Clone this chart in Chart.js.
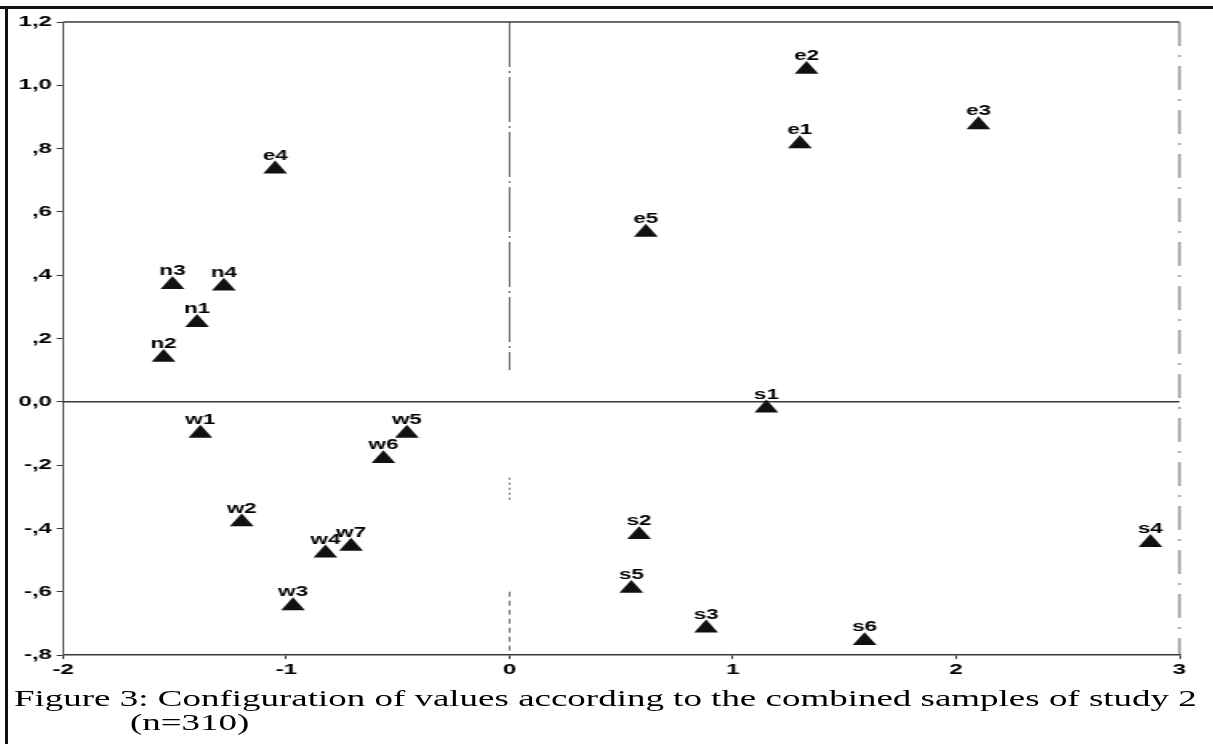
<!DOCTYPE html>
<html>
<head>
<meta charset="utf-8">
<title>Figure 3</title>
<script src="https://cdn.jsdelivr.net/npm/chart.js@4.4.1/dist/chart.umd.min.js"></script>
<style>
    body { margin: 0; background: #fff; overflow: hidden; }
    #wrap { position: absolute; left: 0; top: 0; width: 758px; height: 744px;
            transform: scaleX(1.6003); transform-origin: 0 0; }
    .edge { position: absolute; background: #111; }
    #caption { position: absolute; left: 14px; top: 687px; white-space: nowrap;
               font-family: "Liberation Serif", "Times New Roman", serif; font-size: 23px; line-height: 24px;
               color: #000; transform-origin: 0 0; }
</style>
</head>
<body>
<div id="wrap"><canvas id="configChart" width="758" height="744"></canvas></div>
<div class="edge" style="left:0;top:6px;width:1213px;height:3px;"></div>
<div class="edge" style="left:5px;top:6px;width:3px;height:738px;"></div>
<div id="caption">
    <div id="line1">Figure 3: Configuration of values according to the combined samples of study 2</div>
    <div id="line2">(n=310)</div>
</div>
<script>
const ctx_config = document.querySelector('#configChart').getContext('2d');

// value labels and their coordinates
const pointNames = ['e1', 'e2', 'e3', 'e4', 'e5', 'n1', 'n2', 'n3', 'n4',
    's1', 's2', 's3', 's4', 's5', 's6', 'w1', 'w2', 'w3', 'w4', 'w5', 'w6', 'w7'];
const xValues = [1.30, 1.33, 2.10, -1.05, 0.61, -1.40, -1.55, -1.51, -1.28,
    1.15, 0.58, 0.88, 2.87, 0.545, 1.59, -1.385, -1.20, -0.97, -0.825, -0.46, -0.565, -0.71];
const yValues = [0.815, 1.05, 0.875, 0.735, 0.535, 0.25, 0.14, 0.37, 0.365,
    -0.02, -0.42, -0.715, -0.445, -0.59, -0.755, -0.10, -0.38, -0.645, -0.478, -0.10, -0.18, -0.457];

// axis ticks
const xTickValues = [-2, -1, 0, 1, 2, 3];
const xTickLabels = ['-2', '-1', '0', '1', '2', '3'];
const yTickValues = [-0.8, -0.6, -0.4, -0.2, 0, 0.2, 0.4, 0.6, 0.8, 1.0, 1.2];
const yTickLabels = ['-,8', '-,6', '-,4', '-,2', '0,0', ',2', ',4', ',6', ',8', '1,0', '1,2'];

let points = [];
for (let i = 0; i < pointNames.length; i++) {
    points.push({x: xValues[i], y: yValues[i]});
}

const tickFont = {family: 'Liberation Sans', size: 15, weight: 'bold'};

// names above the triangles
const pointLabelPlugin = {
    id: 'pointLabels',
    afterDatasetsDraw(chart) {
        const c = chart.ctx;
        const meta = chart.getDatasetMeta(0);
        c.save();
        c.font = 'bold 14px "Liberation Sans"';
        c.fillStyle = '#000';
        c.textAlign = 'center';
        c.textBaseline = 'alphabetic';
        meta.data.forEach((el, i) => {
            c.fillText(pointNames[i], el.x, el.y - 9.5);
        });
        c.restore();
    }
};

// frame and the two zero lines
const framePlugin = {
    id: 'frameLines',
    beforeDatasetsDraw(chart) {
        const c = chart.ctx;
        const xs = chart.scales.x, ys = chart.scales.y;
        const a = chart.chartArea;
        const x0 = xs.getPixelForValue(0);
        const y0 = ys.getPixelForValue(0);
        c.save();
        c.strokeStyle = '#3a3a3a';

        // top border
        c.lineWidth = 1.5;
        c.beginPath(); c.moveTo(a.left, a.top); c.lineTo(a.right, a.top); c.stroke();

        // y = 0
        c.beginPath(); c.moveTo(a.left, y0); c.lineTo(a.right, y0); c.stroke();

        // right border, dashed
        c.lineWidth = 0.8;
        c.setLineDash([24, 9, 2, 9]);
        c.beginPath(); c.moveTo(a.right, a.top); c.lineTo(a.right, a.bottom); c.stroke();

        // x = 0, upper part
        c.setLineDash([45, 4, 2, 4]);
        c.beginPath(); c.moveTo(x0, a.top); c.lineTo(x0, ys.getPixelForValue(0.1)); c.stroke();

        // x = 0, broken pieces below
        c.setLineDash([2, 3]);
        c.beginPath(); c.moveTo(x0, ys.getPixelForValue(-0.24)); c.lineTo(x0, ys.getPixelForValue(-0.31)); c.stroke();
        c.setLineDash([5, 4]);
        c.beginPath(); c.moveTo(x0, ys.getPixelForValue(-0.6)); c.lineTo(x0, a.bottom); c.stroke();
        c.restore();
    }
};

const config_scatter = {
    type: 'scatter',
    data: {
        datasets: [{
            label: 'values',
            data: points,
            pointStyle: 'triangle',
            pointRadius: 8.6,
            pointHoverRadius: 8.6,
            backgroundColor: '#111',
            borderWidth: 0,
        }]
    },
    options: {
        responsive: false,
        animation: false,
        events: [],
        layout: {
            padding: {left: 2, right: 21, top: 22, bottom: 60}
        },
        plugins: {
            legend: {display: false},
            tooltip: {enabled: false},
        },
        scales: {
            x: {
                type: 'linear',
                min: -2,
                max: 3,
                afterBuildTicks: s => { s.ticks = xTickValues.map(v => ({value: v})); },
                afterFit: s => { s.height = 29; },
                ticks: {
                    color: '#000',
                    font: tickFont,
                    padding: 2,
                    maxRotation: 0,
                    callback: (v) => xTickLabels[xTickValues.indexOf(v)],
                },
                grid: {drawOnChartArea: false, drawTicks: true, tickLength: 4, color: '#333'},
                border: {display: true, color: '#3a3a3a', width: 1.5},
            },
            y: {
                type: 'linear',
                min: -0.8,
                max: 1.2,
                afterBuildTicks: s => { s.ticks = yTickValues.map(v => ({value: v})); },
                afterFit: s => { s.width = 37.4; },
                ticks: {
                    color: '#000',
                    font: tickFont,
                    padding: 3,
                    callback: (v) => {
                        let i = yTickValues.findIndex(t => Math.abs(t - v) < 1e-6);
                        return yTickLabels[i];
                    },
                },
                grid: {drawOnChartArea: false, drawTicks: true, tickLength: 4, color: '#333', lineWidth: 1},
                border: {display: true, color: '#555', width: 1, dash: [3, 3]},
            }
        }
    },
    plugins: [framePlugin, pointLabelPlugin],
};

new Chart(ctx_config, config_scatter);

// stretch the caption to the figure width; second line starts under "Configuration" (x = 130)
const cap = document.querySelector('#caption');
const w1 = document.querySelector('#line1').scrollWidth;
const sx = 1183 / w1;
document.querySelector('#line2').style.paddingLeft = ((130 - 14) / sx) + 'px';
cap.style.transform = 'scaleX(' + sx + ')';
</script>
</body>
</html>
